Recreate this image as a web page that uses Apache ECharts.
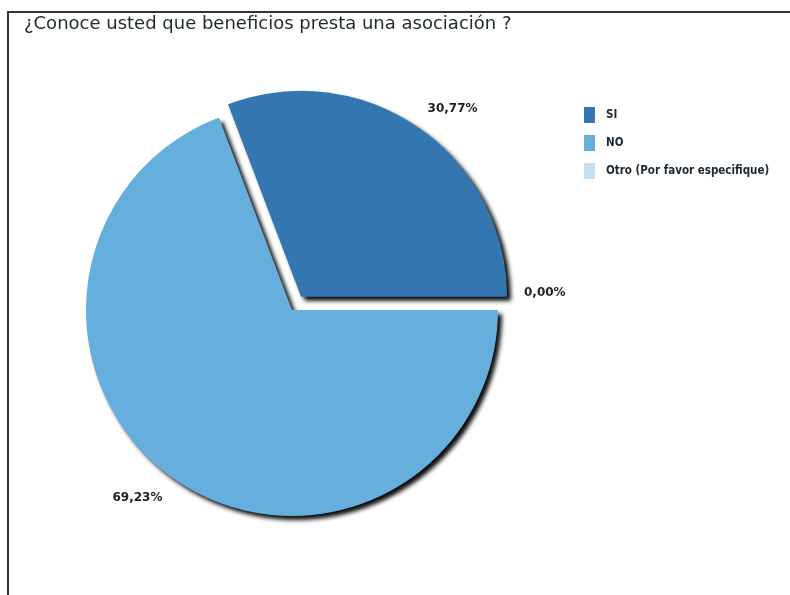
<!DOCTYPE html>
<html>
<head>
<meta charset="utf-8">
<script src="https://cdn.jsdelivr.net/npm/echarts@6/dist/echarts.min.js"></script>
<style>
  html, body { margin: 0; padding: 0; background: #ffffff; }
  #chart { width: 790px; height: 595px; }
</style>
</head>
<body>
<div id="chart"></div>
<script>
// Survey answers and their shares (percent)
var categories = ['SI', 'NO', 'Otro (Por favor especifique)'];
var shares = [30.77, 69.23, 0.00];
var colors = ['#3477B0', '#66AEDE', '#C5E0F5'];
// Slices are laid out clockwise from 3 o'clock in this order
var sliceOrder = ['NO', 'SI', 'Otro (Por favor especifique)'];
var explodedSlice = 'SI';

function pct(v) {
  return v.toFixed(2).replace('.', ',') + '%';
}

var pieData = sliceOrder.map(function (name) {
  var i = categories.indexOf(name);
  return {
    name: name,
    value: shares[i],
    selected: name === explodedSlice,
    itemStyle: { color: colors[i] }
  };
});

// small nudges for the outside percentage labels
var labelNudge = {
  'SI': { dx: -8, dy: 0 },
  'NO': { dx: 5, dy: 0 },
  'Otro (Por favor especifique)': { dx: -1, dy: -17 }
};

var chart = echarts.init(document.getElementById('chart'), null, { renderer: 'canvas' });
chart.setOption({
  animation: false,
  backgroundColor: '#ffffff',
  title: {
    text: '¿Conoce usted que beneficios presta una asociación ?',
    left: 24,
    top: 15,
    padding: 0,
    textStyle: {
      fontFamily: 'DejaVu Sans',
      fontSize: 18,
      fontWeight: 'normal',
      color: '#1f2a2a'
    }
  },
  legend: {
    orient: 'vertical',
    left: 584,
    top: 107,
    padding: 0,
    itemWidth: 11,
    itemHeight: 16,
    itemGap: 12,
    icon: 'rect',
    selectedMode: false,
    data: categories,
    textStyle: {
      fontFamily: 'DejaVu Sans Condensed',
      fontSize: 11.5,
      fontWeight: 'bold',
      color: '#1c2630',
      padding: [0, 0, 0, 6]
    }
  },
  graphic: [{
    type: 'polyline',
    silent: true,
    shape: { points: [[8, 595], [8, 12], [790, 12]] },
    style: { stroke: '#333333', lineWidth: 2, fill: null }
  }],
  series: [{
    type: 'pie',
    center: [292, 310],
    radius: 206,
    startAngle: 0,
    clockwise: true,
    selectedMode: 'multiple',
    selectedOffset: 16,
    avoidLabelOverlap: false,
    itemStyle: {
      borderWidth: 0,
      shadowBlur: 4,
      shadowOffsetX: 4,
      shadowOffsetY: 4,
      shadowColor: 'rgba(0,0,0,0.95)'
    },
    emphasis: { disabled: true },
    label: {
      show: true,
      position: 'outside',
      formatter: function (p) { return pct(p.value); },
      fontFamily: 'DejaVu Sans',
      fontSize: 12,
      fontWeight: 'bold',
      color: '#222222'
    },
    labelLine: { show: false, length: 22, length2: 0 },
    labelLayout: function (p) {
      var name = pieData[p.dataIndex].name;
      return labelNudge[name] || {};
    },
    data: pieData
  }]
});
</script>
</body>
</html>
